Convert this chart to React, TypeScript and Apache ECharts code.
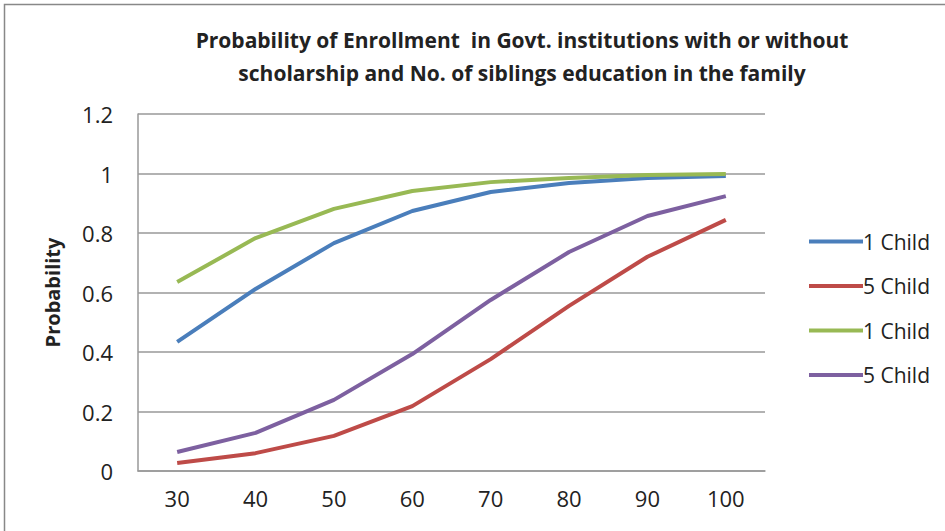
import React, { useEffect, useRef } from "react";
import * as echarts from "echarts";

const categories = ["30", "40", "50", "60", "70", "80", "90", "100"];
const seriesNames = ["1 Child", "5 Child", "1 Child ", "5 Child "];
const legendLabels = ["1 Child", "5 Child", "1 Child", "5 Child"];
const blueOneChild = [0.434, 0.612, 0.766, 0.874, 0.938, 0.968, 0.985, 0.992];
const redFiveChild = [0.027, 0.06, 0.118, 0.218, 0.376, 0.555, 0.72, 0.844];
const greenOneChild = [0.635, 0.783, 0.881, 0.941, 0.971, 0.985, 0.995, 0.998];
const purpleFiveChild = [0.064, 0.128, 0.239, 0.393, 0.575, 0.736, 0.857, 0.924];
const colors = ["#4A7EBB", "#BE4B48", "#98B954", "#7D60A0"];

const FONT = "'Open Sans', 'DejaVu Sans', sans-serif";

export default function App() {
  const ref = useRef<HTMLDivElement>(null);

  useEffect(() => {
    if (!ref.current) return;
    const chart = echarts.init(ref.current, null, { renderer: "svg" });
    const values = [blueOneChild, redFiveChild, greenOneChild, purpleFiveChild];
    chart.setOption({
      animation: false,
      backgroundColor: "#ffffff",
      title: {
        text: "Probability of Enrollment  in Govt. institutions with or without\nscholarship and No. of siblings education in the family",
        left: 517,
        top: 18,
        textAlign: "center",
        textStyle: {
          fontFamily: FONT,
          fontWeight: "bold",
          fontSize: 21,
          lineHeight: 33,
          color: "#222",
        },
      },
      legend: {
        orient: "vertical",
        left: 804,
        top: 226,
        itemWidth: 54,
        itemHeight: 4,
        itemGap: 23.5,
        icon: "rect",
        data: seriesNames,
        formatter: (name: string) => legendLabels[seriesNames.indexOf(name)],
        textStyle: {
          fontFamily: FONT,
          fontSize: 21,
          lineHeight: 21,
          color: "#222",
          padding: [0, 0, 0, -5],
        },
      },
      grid: { left: 138, right: 180, top: 114, bottom: 60, containLabel: false },
      xAxis: {
        type: "category",
        data: categories,
        boundaryGap: true,
        axisLine: { show: true, lineStyle: { color: "#999", width: 1.5 } },
        axisTick: { show: false },
        axisLabel: { fontFamily: FONT, fontSize: 22, color: "#222", margin: 16 },
      },
      yAxis: {
        type: "value",
        min: 0,
        max: 1.2,
        interval: 0.2,
        name: "Probability",
        nameLocation: "middle",
        nameGap: 76,
        nameTextStyle: { fontFamily: FONT, fontWeight: "bold", fontSize: 20, color: "#222" },
        axisLine: { show: true, lineStyle: { color: "#999", width: 1.5 } },
        axisTick: { show: false },
        splitLine: { lineStyle: { color: "#999", width: 1.5 } },
        axisLabel: {
          fontFamily: FONT,
          fontSize: 22,
          color: "#222",
          margin: 25,
          formatter: (v: number) => String(Math.round(v * 10) / 10),
        },
      },
      series: seriesNames.map((name, i) => ({
        name,
        type: "line",
        data: values[i],
        symbol: "none",
        lineStyle: { color: colors[i], width: 4 },
        itemStyle: { color: colors[i] },
      })),
      graphic: [
        {
          type: "rect",
          shape: { x: 4.5, y: 4.5, width: 960, height: 560 },
          style: { fill: "none", stroke: "#888", lineWidth: 1.5 },
          silent: true,
        },
      ],
    });
    return () => chart.dispose();
  }, []);

  return (
    <div
      ref={ref}
      style={{ position: "fixed", left: 0, top: 0, width: 945, height: 531 }}
    />
  );
}
